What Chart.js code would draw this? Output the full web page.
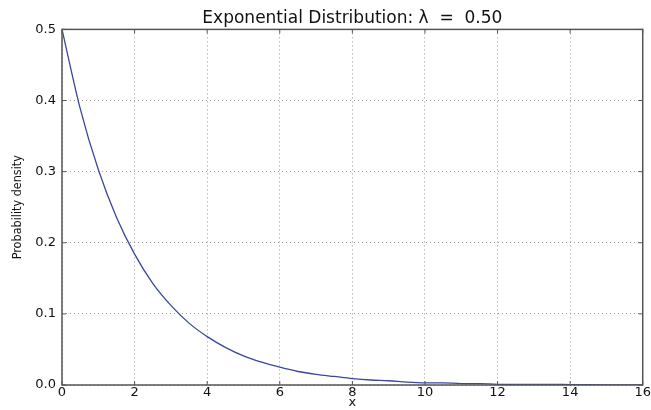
<!DOCTYPE html>
<html lang="en">
<head>
  <meta charset="UTF-8">
  <title>Exponential Distribution</title>
  <script src="https://cdn.jsdelivr.net/npm/chart.js"></script>
  <style>
    html, body { margin: 0; padding: 0; background: #fff; }
    canvas { display: block; }
  </style>
</head>
<body>
  <canvas id="expChart" width="651" height="410"></canvas>

  <script>
    // values, every 0.5 on x
    const xValues = [0, 0.5, 1, 1.5, 2, 2.5, 3, 3.5, 4, 4.5, 5, 5.5, 6, 6.5, 7, 7.5, 8,
                     8.5, 9, 9.5, 10, 10.5, 11, 11.5, 12, 12.5, 13, 13.5, 14, 14.5, 15, 15.5, 16];
    const density = [0.500, 0.389, 0.303, 0.236, 0.184, 0.143, 0.112, 0.087, 0.068, 0.053,
                     0.041, 0.032, 0.025, 0.019, 0.015, 0.012, 0.009, 0.007, 0.006, 0.004,
                     0.003, 0.003, 0.002, 0.002, 0.001, 0.001, 0.001, 0.001, 0.0005, 0.0004,
                     0.0003, 0.0002, 0.0002];
    const xTicks = [0, 2, 4, 6, 8, 10, 12, 14, 16];
    const yTicks = [0, 0.1, 0.2, 0.3, 0.4, 0.5];

    const font = 'DejaVu Sans';

    // frame round the plot plus small inward tick marks, like the original
    const framePlugin = {
      id: 'frame',
      afterDraw(chart) {
        const { ctx, chartArea: a, scales } = chart;
        ctx.save();
        ctx.strokeStyle = '#555';
        ctx.lineWidth = 1.5;
        ctx.strokeRect(a.left, a.top, a.right - a.left, a.bottom - a.top);
        ctx.lineWidth = 1;
        ctx.beginPath();
        xTicks.forEach(v => {
          const px = scales.x.getPixelForValue(v);
          ctx.moveTo(px, a.bottom); ctx.lineTo(px, a.bottom - 4);
          ctx.moveTo(px, a.top); ctx.lineTo(px, a.top + 4);
        });
        yTicks.forEach(v => {
          const py = scales.y.getPixelForValue(v);
          ctx.moveTo(a.left, py); ctx.lineTo(a.left + 4, py);
          ctx.moveTo(a.right, py); ctx.lineTo(a.right - 4, py);
        });
        ctx.stroke();
        ctx.restore();
      }
    };

    new Chart(document.getElementById('expChart'), {
      type: 'scatter',
      data: {
        datasets: [{
          data: xValues.map((x, i) => ({ x: x, y: density[i] })),
          showLine: true,
          borderColor: '#3b479b',
          borderWidth: 1.3,
          pointRadius: 0,
          tension: 0.4,
          cubicInterpolationMode: 'monotone'
        }]
      },
      options: {
        responsive: false,
        animation: false,
        layout: { padding: { left: 0, right: 8, top: 0, bottom: 0 } },
        plugins: {
          legend: { display: false },
          tooltip: { enabled: false },
          title: {
            display: true,
            fullSize: false,
            text: 'Exponential Distribution: λ  =  0.50',
            color: '#111',
            font: { family: font, size: 17, weight: 'normal' },
            padding: { top: 8, bottom: 1 }
          }
        },
        scales: {
          x: {
            type: 'linear',
            min: 0,
            max: 16,
            afterBuildTicks: s => { s.ticks = xTicks.map(v => ({ value: v })); },
            afterFit: s => { s.height = 25; },
            ticks: {
              color: '#111',
              font: { family: font, size: 13 },
              padding: 0,
              maxRotation: 0
            },
            grid: { color: '#999', drawTicks: false, lineWidth: 1 },
            border: { display: false, dash: [1, 3] },
            title: {
              display: true,
              text: 'x',
              color: '#111',
              font: { family: font, size: 13 },
              padding: { top: -5, bottom: 0 }
            }
          },
          y: {
            min: 0,
            max: 0.5,
            afterBuildTicks: s => { s.ticks = yTicks.map(v => ({ value: v })); },
            afterFit: s => { s.width = 62; },
            ticks: {
              color: '#111',
              font: { family: font, size: 13 },
              padding: 6,
              callback: v => v.toFixed(1)
            },
            grid: { color: '#999', drawTicks: false, lineWidth: 1 },
            border: { display: false, dash: [1, 3] },
            title: {
              display: true,
              text: 'Probability density',
              color: '#111',
              font: { family: 'DejaVu Sans Condensed', size: 12.5 },
              padding: { top: 10, bottom: 0 }
            }
          }
        }
      },
      plugins: [framePlugin]
    });
  </script>
</body>
</html>
